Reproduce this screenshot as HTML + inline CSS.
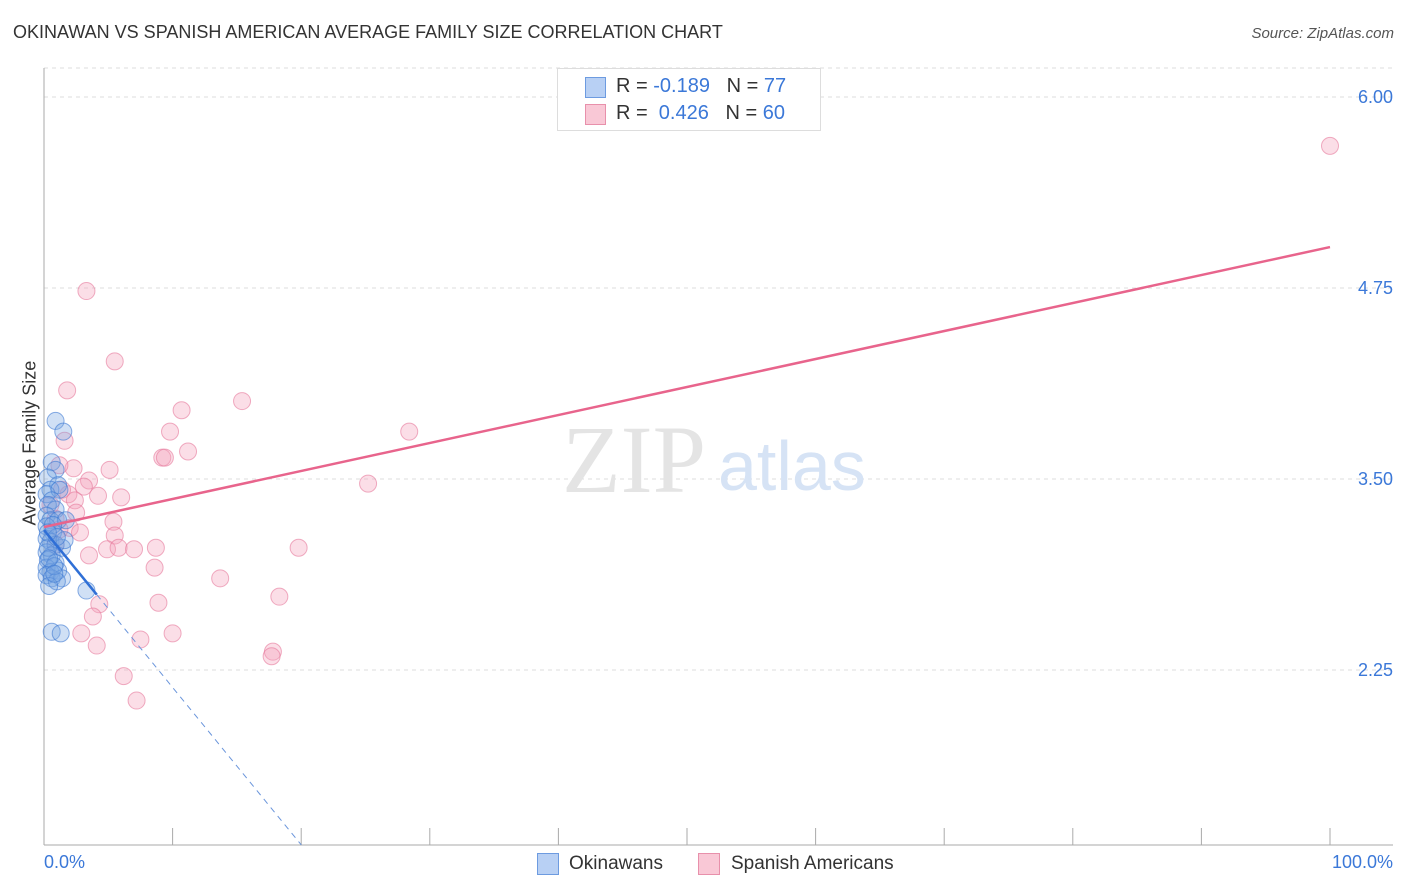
<!DOCTYPE html>
<html><head><meta charset="utf-8"><style>
body{margin:0;background:#fff;font-family:"Liberation Sans",sans-serif}
#wrap{position:relative;width:1406px;height:892px;overflow:hidden}
.t{position:absolute;white-space:nowrap}
</style></head><body>
<div id="wrap">
<div class="t" style="left:13px;top:22px;font-size:18px;color:#333">OKINAWAN VS SPANISH AMERICAN AVERAGE FAMILY SIZE CORRELATION CHART</div>
<div class="t" style="right:12px;top:25px;font-size:15px;color:#555;font-style:italic">Source: ZipAtlas.com</div>
<svg id="svg" width="1406" height="892" style="position:absolute;left:0;top:0"></svg>
</div>
<script>
const yTicks=[2.25,3.5,4.75,6.0];
const yTickLabels=["2.25","3.50","4.75","6.00"];
const blueX=[0.9,1.5,0.6,0.9,0.3,1.1,0.5,0.2,1.2,0.6,0.3,0.9,0.2,0.5,1.1,0.2,0.7,0.2,0.5,0.9,1.4,0.2,0.6,0.3,0.9,0.2,0.5,1.1,0.2,0.6,1.4,1.0,3.3,0.6,1.3,1.7,1.6,0.4,0.8,0.3,0.7,1.0,0.4,0.8,0.3];
const blueY=[3.88,3.81,3.61,3.56,3.51,3.46,3.43,3.40,3.43,3.36,3.33,3.30,3.26,3.23,3.23,3.19,3.15,3.11,3.09,3.07,3.05,3.02,3.00,2.97,2.95,2.92,2.89,2.90,2.87,2.85,2.85,2.83,2.77,2.50,2.49,3.23,3.10,2.80,2.93,3.05,3.20,3.12,2.98,2.88,3.15];
const pinkX=[100,3.3,5.5,1.8,10.7,15.4,9.8,28.4,1.6,9.2,9.4,11.2,5.1,2.3,1.2,3.5,3.1,4.2,6,1.9,2.4,25.2,1.4,2.5,5.4,2,2.8,5.5,3.5,4.9,5.8,7,8.7,19.8,8.6,13.7,18.3,4.3,8.9,3.8,2.9,7.5,10,4.1,17.8,17.7,6.2,7.2,0.9,0.5,1.2,0.9];
const pinkY=[5.68,4.73,4.27,4.08,3.95,4.01,3.81,3.81,3.75,3.64,3.64,3.68,3.56,3.57,3.59,3.49,3.45,3.39,3.38,3.40,3.36,3.47,3.43,3.28,3.22,3.18,3.15,3.13,3.00,3.04,3.05,3.04,3.05,3.05,2.92,2.85,2.73,2.68,2.69,2.60,2.49,2.45,2.49,2.41,2.37,2.34,2.21,2.05,3.24,3.33,3.17,3.07];
const blueTrend=[3.166,-0.103];
const pinkTrend=[3.186,5.018];
const X=v=>44+v*12.86, Y=v=>670-(v-2.25)*152.8;
const svg=document.getElementById('svg'),NS='http://www.w3.org/2000/svg';
function mk(tag,a,p){const e=document.createElementNS(NS,tag);for(const k in a)e.setAttribute(k,a[k]);(p||svg).appendChild(e);return e;}
yTicks.forEach((v,i)=>{
 const g=mk('line',{x1:44,x2:1393,y1:Y(v),y2:Y(v),stroke:'#ddd','stroke-dasharray':'4,4'});
 
 
 const t=mk('text',{x:1393,y:Y(v)+6,'text-anchor':'end','font-size':18,fill:'#3b78d8','font-family':'Liberation Sans'});
 t.textContent=yTickLabels[i];
 
 
});
mk('line',{x1:44,x2:1393,y1:Y(6.19),y2:Y(6.19),stroke:'#ddd','stroke-dasharray':'4,4'});
const ax=mk('line',{x1:44,x2:44,y1:68,y2:845,stroke:'#aaa'});

const bx=mk('line',{x1:44,x2:1393,y1:845,y2:845,stroke:'#aaa'});

for(let i=1;i<=10;i++){const tk=mk('line',{x1:X(i*10),x2:X(i*10),y1:828,y2:845,stroke:'#aaa'});
 }
const wm=mk('text',{x:634,y:492,'text-anchor':'middle','font-size':96,fill:'#e4e4e4','font-family':'Liberation Serif'});wm.textContent='ZIP';
const wm2=mk('text',{x:718,y:490,'text-anchor':'start','font-size':70,fill:'#d6e3f5','font-family':'Liberation Sans'});wm2.textContent='atlas';


pinkX.forEach((x,i)=>{const c=mk('circle',{cx:X(x),cy:Y(pinkY[i]),r:8.5,fill:'rgba(244,160,185,0.35)',stroke:'rgba(230,120,155,0.6)','stroke-width':1});
 });
blueX.forEach((x,i)=>{const c=mk('circle',{cx:X(x),cy:Y(blueY[i]),r:8.5,fill:'rgba(120,165,225,0.35)',stroke:'rgba(60,120,210,0.6)','stroke-width':1});
 });
const bEnd=(1.105-blueTrend[0])/blueTrend[1];
const bl=mk('line',{x1:X(0),y1:Y(blueTrend[0]),x2:X(4.1),y2:Y(blueTrend[0]+blueTrend[1]*4.1),stroke:'#2f6fd6','stroke-width':2.5});

const bd=mk('line',{x1:X(4.1),y1:Y(blueTrend[0]+blueTrend[1]*4.1),x2:X(bEnd),y2:Y(1.105),stroke:'#6a95db','stroke-width':1,'stroke-dasharray':'6,5'});

const pl=mk('line',{x1:X(0),y1:Y(pinkTrend[0]),x2:X(100),y2:Y(pinkTrend[1]),stroke:'#e8648c','stroke-width':2.5});

</script>
<div class="t" style="left:44px;top:852px;font-size:18px;color:#3b78d8">0.0%</div>
<div class="t" style="right:13px;top:852px;font-size:18px;color:#3b78d8">100.0%</div>
<div class="t" style="left:-40px;top:445px;font-size:18px;color:#333;transform:rotate(-90deg);width:140px;text-align:center">Average Family Size</div>
<div style="position:absolute;left:557px;top:68px;width:262px;height:61px;border:1px solid #ddd;background:#fff;font-size:20px;color:#333">
 <div style="position:absolute;left:27px;top:8px;width:19px;height:19px;background:#b8d0f4;border:1px solid #6d9be0"></div>
 <div class="t" style="left:58px;top:6px">R = <span style="color:#3b78d8">-0.189</span>&nbsp;&nbsp;&nbsp;N = <span style="color:#3b78d8">77</span></div>
 <div style="position:absolute;left:27px;top:35px;width:19px;height:19px;background:#f9c8d6;border:1px solid #e890ab"></div>
 <div class="t" style="left:58px;top:33px">R = &nbsp;<span style="color:#3b78d8">0.426</span>&nbsp;&nbsp;&nbsp;N = <span style="color:#3b78d8">60</span></div>
</div>
<div style="position:absolute;left:537px;top:853px;width:20px;height:20px;background:#b8d0f4;border:1px solid #6d9be0"></div>
<div class="t" style="left:569px;top:853px;font-size:19px;color:#333">Okinawans</div>
<div style="position:absolute;left:698px;top:853px;width:20px;height:20px;background:#f9c8d6;border:1px solid #e890ab"></div>
<div class="t" style="left:731px;top:853px;font-size:19px;color:#333">Spanish Americans</div>
</body></html>
